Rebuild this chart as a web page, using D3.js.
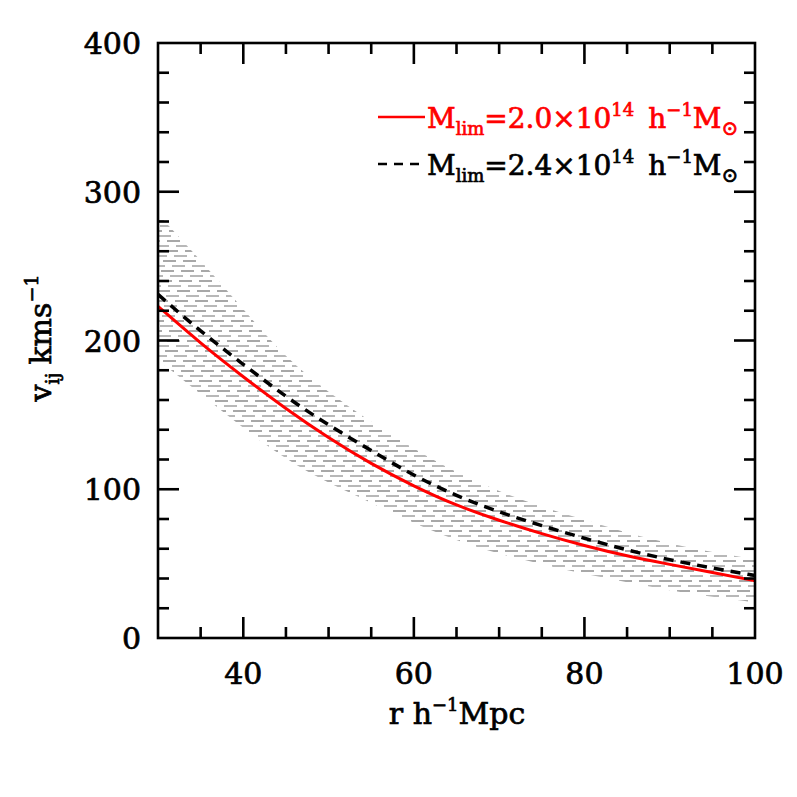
<!DOCTYPE html>
<html><head><meta charset="utf-8">
<script src="https://cdn.jsdelivr.net/npm/d3@7"></script>
<style>body{margin:0;background:#fff}</style>
</head><body>
<svg id="c" width="797" height="797"></svg>
<script>
const rVals      = [30, 35, 40, 45, 50, 55, 60, 65, 70, 75, 80, 85, 90, 95, 100];
const vRed       = [223, 198, 175.5, 154, 134.5, 117, 102, 89, 79, 70, 62, 55, 49.5, 44, 38.5];
const vBlack     = [231, 206, 184, 162, 143, 126, 109, 95.5, 84.5, 75.5, 67, 59, 52.5, 47, 42];
const bandUpper  = [285, 254, 221, 188, 165, 145, 127, 111, 98.5, 88, 79.5, 70.5, 63.5, 57.5, 53];
const bandLower  = [187, 164, 141, 120, 104, 91, 77, 65.5, 56.5, 49.5, 43, 37.5, 32, 27.5, 24];
const xTicks = [40, 60, 80, 100];
const yTicks = [0, 100, 200, 300, 400];
const legendLabels = ["2.0\u00d710", "2.4\u00d710"];

const L = 158, R = 755, T = 43, B = 638;
const svg = d3.select("#c");
const x = d3.scaleLinear().domain([30, 100]).range([L, R]);
const y = d3.scaleLinear().domain([0, 400]).range([B, T]);
const font = "'DejaVu Serif', serif";

// band clip
const area = d3.area().x((d,i)=>x(rVals[i])).y0((d,i)=>y(bandLower[i])).y1((d,i)=>y(bandUpper[i])).curve(d3.curveBasis);
svg.append("clipPath").attr("id","band").append("path").attr("d", area(rVals));
const hatch = svg.append("g").attr("clip-path","url(#band)");
let k = 0;
for (let py = B - 2; py > T; py -= 5, k++) {
  const light = k % 2 === 0;
  hatch.append("line").attr("x1", L).attr("x2", R).attr("y1", py).attr("y2", py)
    .attr("stroke", light ? "#b8b8b8" : "#8c8c8c")
    .attr("stroke-width", light ? 2 : 1.3)
    .attr("stroke-dasharray", "13,7")
    .attr("stroke-dashoffset", (k * 9) % 20);
}

const line = (arr) => d3.line().x((d,i)=>x(rVals[i])).y((d,i)=>y(arr[i])).curve(d3.curveBasis)(rVals);
svg.append("path").attr("d", line(vBlack)).attr("fill","none").attr("stroke","#000")
  .attr("stroke-width",3.5).attr("stroke-dasharray","10,7");
svg.append("path").attr("d", line(vRed)).attr("fill","none").attr("stroke","#f00")
  .attr("stroke-width",3);

// frame and ticks
const ax = svg.append("g").attr("stroke","#000").attr("stroke-width",2.6);
ax.append("rect").attr("x",L).attr("y",T).attr("width",R-L).attr("height",B-T).attr("fill","none");
for (let v = 35; v < 100; v += 5) {
  const len = (v % 20 === 0) ? 21 : 11;
  ax.append("line").attr("x1",x(v)).attr("x2",x(v)).attr("y1",B).attr("y2",B-len);
  ax.append("line").attr("x1",x(v)).attr("x2",x(v)).attr("y1",T).attr("y2",T+len);
}
for (let v = 20; v < 400; v += 20) {
  const len = (v % 100 === 0) ? 21 : 11;
  ax.append("line").attr("y1",y(v)).attr("y2",y(v)).attr("x1",L).attr("x2",L+len);
  ax.append("line").attr("y1",y(v)).attr("y2",y(v)).attr("x1",R).attr("x2",R-len);
}

const textStyle = (s, size) => s.attr("font-family",font).attr("font-size",size)
  .attr("stroke-width",0.7).attr("paint-order","stroke");
const tl = svg.append("g").attr("fill","#000").attr("stroke","#000");
textStyle(tl, 30);
xTicks.forEach(v => tl.append("text").attr("x",x(v)).attr("y",B+46).attr("text-anchor","middle").text(v));
yTicks.forEach(v => tl.append("text").attr("x",L-17).attr("y",y(v)+11).attr("text-anchor","end").text(v));

// axis titles
const xt = svg.append("text").attr("x",457).attr("y",724).attr("text-anchor","middle").attr("fill","#000").attr("stroke","#000");
textStyle(xt, 30);
xt.append("tspan").text("r h");
xt.append("tspan").attr("font-size",18).attr("dy",-13).text("\u22121");
xt.append("tspan").attr("dy",13).text("Mpc");

const yt = svg.append("text").attr("transform","translate(51,338) rotate(-90)").attr("text-anchor","middle").attr("fill","#000").attr("stroke","#000");
textStyle(yt, 30);
yt.append("tspan").text("v");
yt.append("tspan").attr("font-size",19).attr("dy",8).text("ij");
yt.append("tspan").attr("dy",-8).attr("dx",8).text("kms");
yt.append("tspan").attr("font-size",19).attr("dy",-13).text("\u22121");

// legend
function legendText(yy, label, color) {
  const t = svg.append("text").attr("x",427).attr("y",yy).attr("fill",color).attr("stroke",color);
  textStyle(t, 28);
  t.append("tspan").text("M");
  t.append("tspan").attr("font-size",18).attr("dy",7).text("lim");
  t.append("tspan").attr("dy",-7).text("=" + label);
  t.append("tspan").attr("font-size",18).attr("dy",-12).text("14");
  t.append("tspan").attr("dy",12).attr("dx",14).text("h");
  t.append("tspan").attr("font-size",18).attr("dy",-12).text("\u22121");
  t.append("tspan").attr("dy",12).text("M");
  t.append("tspan").attr("font-size",20).attr("dy",7).text("\u2299");
}
svg.append("line").attr("x1",378).attr("x2",425).attr("y1",117).attr("y2",117).attr("stroke","#f00").attr("stroke-width",2.5);
legendText(128, legendLabels[0], "#f00");
svg.append("line").attr("x1",378).attr("x2",425).attr("y1",164).attr("y2",164).attr("stroke","#000").attr("stroke-width",2.5).attr("stroke-dasharray","9,7");
legendText(175, legendLabels[1], "#000");
</script>
</body></html>
